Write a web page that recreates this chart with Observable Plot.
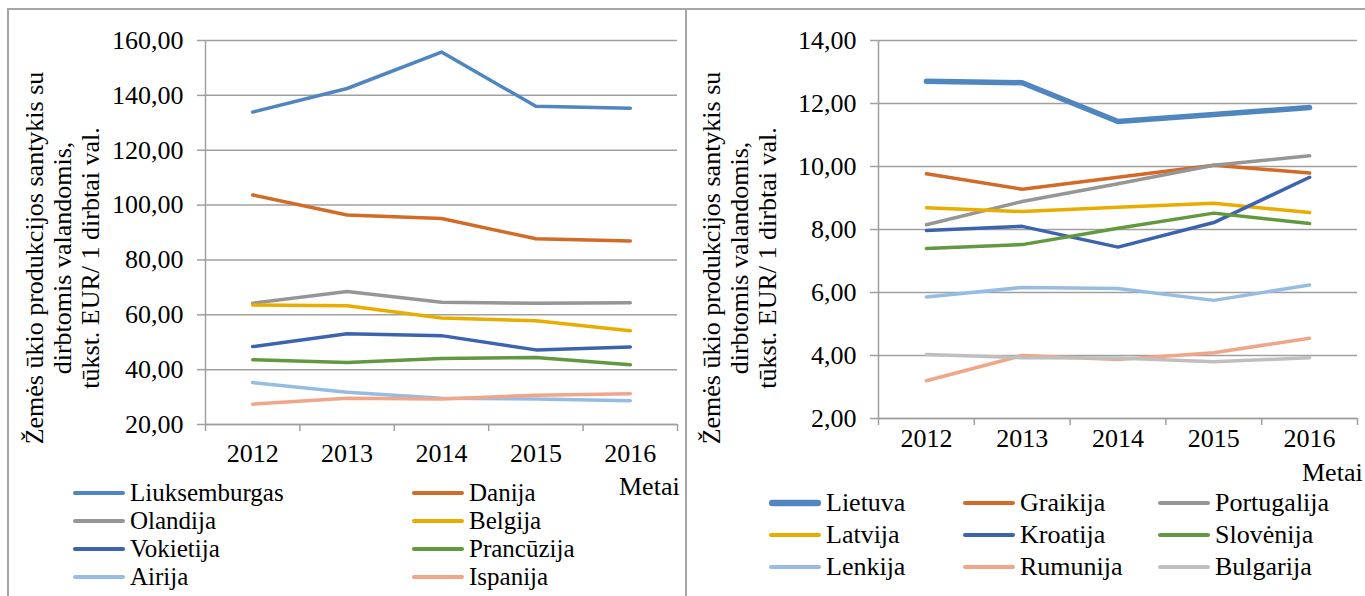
<!DOCTYPE html>
<html>
<head>
<meta charset="utf-8">
<script src="https://cdn.jsdelivr.net/npm/d3@7"></script>
<script src="https://cdn.jsdelivr.net/npm/@observablehq/plot@0.6"></script>
<style>
  html, body { margin: 0; padding: 0; background: #fff; }
  #wrap { position: relative; width: 1365px; height: 596px; overflow: hidden; background: #fff;
          font-family: "Liberation Serif", Tinos, "Times New Roman", serif; color: #000; }
  .chart { position: absolute; top: 0; }
  .ytitle { position: absolute; white-space: nowrap; text-align: center; font-size: 26px; line-height: 28px;
            transform: translate(-50%, -50%) rotate(-90deg); }
  .metai { position: absolute; font-size: 26px; line-height: 26px; }
  .leg { position: absolute; line-height: 26px; white-space: nowrap; }
  .leg svg { position: absolute; top: 0; }
  .border { position: absolute; background: #a6a6a6; }
</style>
</head>
<body>
<div id="wrap"></div>
<script>
// ---------------- data ----------------
const years = [2012, 2013, 2014, 2015, 2016];

const leftCountries = ["Liuksemburgas", "Danija", "Olandija", "Belgija", "Vokietija", "Prancūzija", "Airija", "Ispanija"];
const leftColors    = ["#4f86c0", "#d26a28", "#969696", "#e8ad00", "#3c63ae", "#62993f", "#97bce3", "#f1a689"];
const liuksemburgas = [133.9, 142.5, 155.8, 136.0, 135.3];
const danija        = [103.7, 96.4, 95.1, 87.7, 86.9];
const olandija      = [64.2, 68.5, 64.6, 64.2, 64.4];
const belgija       = [63.6, 63.3, 58.8, 57.8, 54.2];
const vokietija     = [48.4, 53.1, 52.4, 47.2, 48.3];
const prancuzija    = [43.6, 42.6, 44.1, 44.4, 41.8];
const airija        = [35.3, 31.8, 29.6, 29.3, 28.7];
const ispanija      = [27.4, 29.6, 29.3, 30.7, 31.2];
const leftValues = [liuksemburgas, danija, olandija, belgija, vokietija, prancuzija, airija, ispanija];
const leftTicks = [20, 40, 60, 80, 100, 120, 140, 160];

const rightCountries = ["Lietuva", "Graikija", "Portugalija", "Latvija", "Kroatija", "Slovėnija", "Lenkija", "Rumunija", "Bulgarija"];
const rightColors    = ["#4f86c0", "#d26a28", "#969696", "#e8ad00", "#3c63ae", "#62993f", "#97bce3", "#f1a689", "#bfbfbf"];
const lietuva     = [12.71, 12.66, 11.43, 11.65, 11.87];
const graikija    = [9.77, 9.28, 9.66, 10.04, 9.79];
const portugalija = [8.15, 8.89, 9.45, 10.04, 10.34];
const latvija     = [8.69, 8.57, 8.71, 8.83, 8.54];
const kroatija    = [7.97, 8.10, 7.44, 8.22, 9.66];
const slovenija   = [7.40, 7.52, 8.04, 8.52, 8.19];
const lenkija     = [5.86, 6.16, 6.13, 5.75, 6.24];
const rumunija    = [3.20, 4.00, 3.87, 4.09, 4.55];
const bulgarija   = [4.03, 3.93, 3.92, 3.80, 3.93];
const rightValues = [lietuva, graikija, portugalija, latvija, kroatija, slovenija, lenkija, rumunija, bulgarija];
const rightTicks = [2, 4, 6, 8, 10, 12, 14];

const yTitle = ["Žemės ūkio produkcijos santykis su", "dirbtomis valandomis,", "tūkst. EUR/ 1 dirbtai val."];
const xTitle = "Metai";

// ---------------- helpers ----------------
const FONT = '"Liberation Serif", Tinos, "Times New Roman", serif';
const wrap = document.getElementById("wrap");
const fmt = d => d.toFixed(2).replace(".", ",");
const boundaries = [2011.5, 2012.5, 2013.5, 2014.5, 2015.5, 2016.5];
const gridColor = "#a0a0a0";

function toRows(names, values) {
  const rows = [];
  names.forEach((n, i) => values[i].forEach((v, j) => rows.push({series: n, year: years[j], value: v})));
  return rows;
}

function makeChart({names, colors, values, ticks, domain, width, marginLeft, marginRight, height, marginTop, marginBottom, thick, xPad}) {
  const rows = toRows(names, values);
  const lineMarks = names.map(n =>
    Plot.line(rows.filter(r => r.series === n), {
      x: "year", y: "value", stroke: "series",
      strokeWidth: thick === n ? 5.5 : 3.5,
      strokeLinejoin: "round", strokeLinecap: "round"
    })
  );
  return Plot.plot({
    width, height, marginLeft, marginRight, marginTop, marginBottom,
    style: {fontFamily: FONT, fontSize: "26px", background: "transparent", color: "#000", overflow: "visible"},
    x: {type: "linear", domain: [2011.5, 2016.5]},
    y: {domain},
    color: {domain: names, range: colors},
    marks: [
      Plot.gridY(ticks, {stroke: gridColor, strokeOpacity: 1, strokeWidth: 1.5}),
      Plot.axisY({ticks, tickFormat: fmt, tickSize: 8, tickPadding: 14, stroke: gridColor, strokeWidth: 1.5, fontSize: 26, label: null, fill: "#000"}),
      Plot.ruleX([2011.5], {stroke: gridColor, strokeWidth: 1.5}),
      Plot.ruleY([domain[0]], {stroke: gridColor, strokeWidth: 1.5}),
      Plot.axisX({ticks: boundaries, tickFormat: () => "", tickSize: 7, stroke: gridColor, strokeWidth: 1.5, label: null}),
      Plot.axisX({ticks: years, tickFormat: d => String(d), tickSize: 0, tickPadding: xPad, fontSize: 26, label: null, fill: "#000"}),
      ...lineMarks
    ]
  });
}

// ---------------- left chart ----------------
const left = makeChart({
  names: leftCountries, colors: leftColors, values: leftValues, ticks: leftTicks, domain: [20, 160],
  width: 686, marginLeft: 205, marginRight: 9, height: 470, marginTop: 40, marginBottom: 46, xPad: 19
});
left.classList.add("chart");
left.style.left = "0px";
wrap.appendChild(left);

// ---------------- right chart ----------------
const right = makeChart({
  names: rightCountries, colors: rightColors, values: rightValues, ticks: rightTicks, domain: [2, 14],
  width: 679, marginLeft: 192, marginRight: 8, height: 470, marginTop: 40, marginBottom: 52, thick: "Lietuva", xPad: 10
});
right.classList.add("chart");
right.style.left = "686px";
wrap.appendChild(right);

// ---------------- titles ----------------
function addYTitle(cx, cy) {
  const d = document.createElement("div");
  d.className = "ytitle";
  d.style.left = cx + "px";
  d.style.top = cy + "px";
  d.innerHTML = yTitle.join("<br>");
  wrap.appendChild(d);
}
addYTitle(63, 258);
addYTitle(740, 258);

function addMetai(x, y) {
  const d = document.createElement("div");
  d.className = "metai";
  d.style.left = x + "px";
  d.style.top = y + "px";
  d.textContent = xTitle;
  wrap.appendChild(d);
}
addMetai(619, 474);
addMetai(1302, 460);

// ---------------- legends ----------------
function addLegend(names, colors, colXs, rowYs, ncol, fontSize, thick) {
  names.forEach((n, i) => {
    const c = i % ncol, r = Math.floor(i / ncol);
    const d = document.createElement("div");
    d.className = "leg";
    d.style.fontSize = fontSize + "px";
    d.style.left = colXs[c] + "px";
    d.style.top = (rowYs[r] - 13) + "px";
    const sw = thick === n ? 6.5 : 4;
    d.innerHTML = `<svg width="60" height="26" style="left:0"><line x1="${sw/2+1}" y1="13" x2="${53 - sw/2}" y2="13" stroke="${colors[i]}" stroke-width="${sw}" stroke-linecap="round"/></svg><span style="position:absolute;left:58px;top:0">${n}</span>`;
    wrap.appendChild(d);
  });
}
addLegend(leftCountries, leftColors, [72, 411], [493, 521, 549, 577], 2, 25);
addLegend(rightCountries, rightColors, [768, 962, 1157], [503, 535, 567], 3, 26, "Lietuva");

// ---------------- panel borders ----------------
function addBorder(x, y, w, h) {
  const d = document.createElement("div");
  d.className = "border";
  Object.assign(d.style, {left: x + "px", top: y + "px", width: w + "px", height: h + "px"});
  wrap.appendChild(d);
}
addBorder(8, 8, 1357, 2);
addBorder(7, 8, 2, 600);
addBorder(685, 8, 2, 600);
</script>
</body>
</html>
